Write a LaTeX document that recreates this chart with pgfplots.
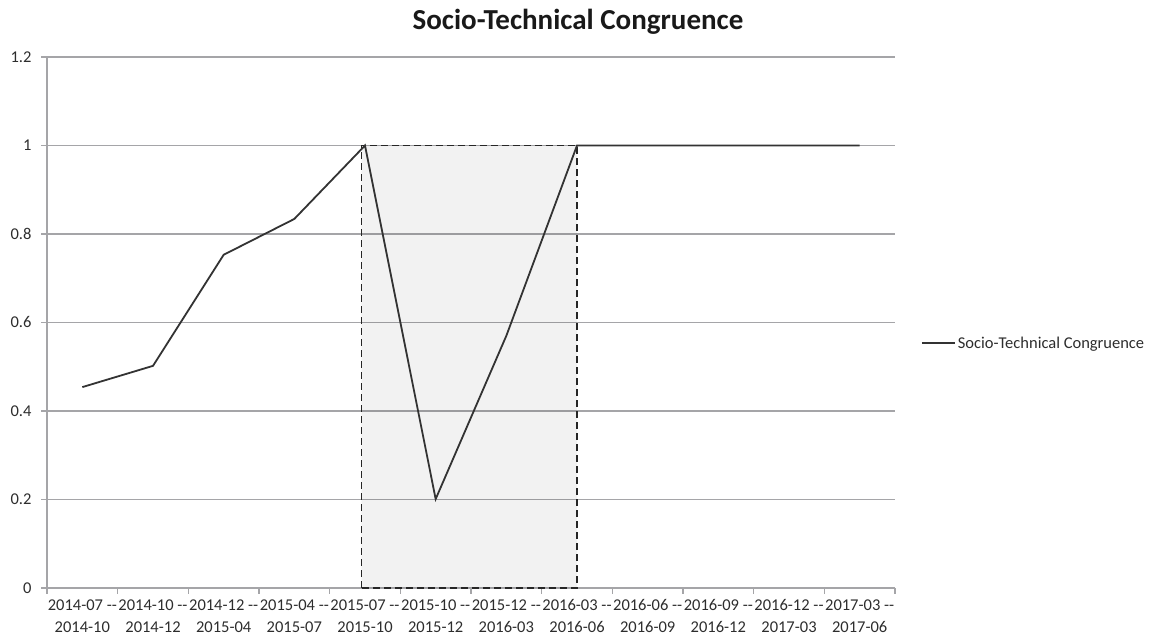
\documentclass[border=0pt]{standalone}
\usepackage{pgfplots}
\pgfplotsset{compat=1.18}
\usepackage{fontspec}
\setmainfont{Carlito}[Ligatures=TeXOff]
\definecolor{gridc}{RGB}{165,165,168}
\definecolor{txt}{RGB}{45,45,45}
\begin{document}
\begin{tikzpicture}[x=1bp,y=1bp]
\path[use as bounding box] (0,0) rectangle (1149,640);
\node[font=\fontsize{29bp}{33bp}\selectfont\bfseries, text=black!90] at (578,618) {Socio-Technical Congruence};
\begin{axis}[
  at={(47bp,52bp)}, anchor=south west,
  scale only axis, width=848bp, height=531bp,
  xmin=-0.5, xmax=11.5, ymin=0, ymax=1.2,
  axis lines=left, axis line style={-, draw=gridc, line width=1.2bp},
  xtick={-0.5,0.5,...,11.5},
  x tick label as interval,
  xticklabels={{2014-07 --\\2014-10},{2014-10 --\\2014-12},{2014-12 --\\2015-04},{2015-04 --\\2015-07},{2015-07 --\\2015-10},{2015-10 --\\2015-12},{2015-12 --\\2016-03},{2016-03 --\\2016-06},{2016-06 --\\2016-09},{2016-09 --\\2016-12},{2016-12 --\\2017-03},{2017-03 --\\2017-06}},
  xticklabel style={align=center, font=\fontsize{16.5bp}{22bp}\selectfont, text=txt, yshift=-2bp},
  ytick={0,0.2,...,1.2},
  yticklabels={0,0.2,0.4,0.6,0.8,1,1.2},
  yticklabel style={font=\fontsize{16.5bp}{20bp}\selectfont, text=txt, xshift=-6bp},
  ymajorgrids, grid style={draw=gridc, line width=1.2bp},
  tick align=outside, major tick length=6bp,
  tick style={draw=gridc, line width=1.2bp},
  clip=false,
  legend style={at={(1.027,0.461)}, anchor=west, draw=none, fill=none, font=\fontsize{16.5bp}{20bp}\selectfont, text=txt},
  legend image code/.code={\draw[#1] (0bp,0bp) -- (33bp,0bp);},
]
\addplot[forget plot, fill=black, fill opacity=0.05, draw=black!85, draw opacity=1, dash pattern=on 7bp off 4bp, line width=1.8bp]
  coordinates {(3.95,0) (3.95,1) (7,1) (7,0) (3.95,0)};
\addplot[black!80, line width=1.8bp, mark=none] coordinates {
(0,0.454) (1,0.502) (2,0.753) (3,0.834) (4,1.0) (5,0.201) (6,0.57) (7,1) (8,1) (9,1) (10,1) (11,1)};
\addlegendentry{Socio-Technical Congruence}
\end{axis}
\end{tikzpicture}
\end{document}
